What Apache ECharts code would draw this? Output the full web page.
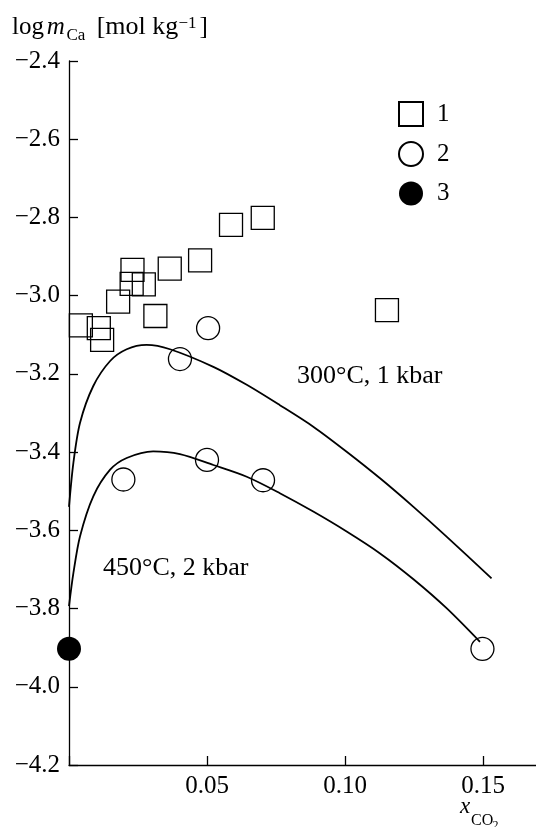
<!DOCTYPE html>
<html>
<head>
<meta charset="utf-8">
<script src="https://cdn.jsdelivr.net/npm/echarts@6/dist/echarts.min.js"></script>
<style>html,body{margin:0;padding:0;background:#fff;}#c{width:536px;height:827px;}</style>
</head>
<body>
<div id="c"></div>
<script>
// Series 1: squares
const squares = [
  [0.0043, -3.076], [0.0108, -3.083], [0.0120, -3.113], [0.0178, -3.015],
  [0.0230, -2.934], [0.0227, -2.970], [0.0271, -2.971], [0.0313, -3.052],
  [0.0365, -2.931], [0.0475, -2.910], [0.0587, -2.819], [0.0702, -2.801],
  [0.1152, -3.037]
];
// Series 2: open circles
const circles = [
  [0.0504, -3.083], [0.0402, -3.162], [0.0197, -3.470], [0.0500, -3.420],
  [0.0703, -3.472], [0.1498, -3.903]
];
// Series 3: filled circle
const filled = [[0.0, -3.903]];
// Curve 300°C, 1 kbar
const curve300 = [
  [0.0, -3.54], [0.0016, -3.427], [0.004, -3.325], [0.0088, -3.231], [0.0149, -3.167],
  [0.0209, -3.137], [0.0281, -3.126], [0.0366, -3.137], [0.0523, -3.182], [0.0644, -3.228],
  [0.0764, -3.280], [0.0885, -3.335], [0.1006, -3.399], [0.1127, -3.467], [0.1248, -3.540],
  [0.1368, -3.616], [0.1531, -3.723]
];
// Curve 450°C, 2 kbar
const curve450 = [
  [0.0, -3.794], [0.0016, -3.709], [0.004, -3.615], [0.0088, -3.513], [0.0149, -3.445],
  [0.0209, -3.415], [0.0305, -3.398], [0.0402, -3.405], [0.0523, -3.433], [0.0644, -3.463],
  [0.0764, -3.505], [0.0885, -3.552], [0.1006, -3.603], [0.1127, -3.659], [0.1248, -3.725],
  [0.1368, -3.799], [0.1489, -3.885]
];
const legendNames = ['1', '2', '3'];
const curveLabels = ['300°C, 1 kbar', '450°C, 2 kbar'];
const xTickLabels = {'0.05': '0.05', '0.1': '0.10', '0.15': '0.15'};

const FONT = '"Liberation Serif", "DejaVu Serif", serif';
const chart = echarts.init(document.getElementById('c'));
const markerStyle = { color: 'transparent', borderColor: '#000', borderWidth: 1.3, opacity: 1 };

function txt(s, x, y, size, italic) {
  return { type: 'text', x: x, y: y, z: 10, silent: true,
    style: { text: s, fontFamily: FONT, fontSize: size, fontStyle: italic ? 'italic' : 'normal',
             fill: '#000', verticalAlign: 'middle', align: 'left' } };
}
// y passed = baseline - 0.3375*fontSize
function tb(s, x, baseline, size, italic) { return txt(s, x, baseline - 0.3375 * size, size, italic); }

chart.setOption({
  animation: false,
  backgroundColor: '#fff',
  textStyle: { fontFamily: FONT, color: '#000' },
  grid: { left: 69, top: 61, width: 469.2, height: 704, containLabel: false, outerBoundsMode: 'none' },
  legend: {
    data: legendNames,
    orient: 'vertical',
    left: 398, top: 101, padding: 0,
    itemWidth: 24, itemHeight: 24, itemGap: 14,
    textStyle: { fontFamily: FONT, fontSize: 25, color: '#000', padding: [0, 0, 0, 9] },
    selectedMode: false
  },
  xAxis: {
    type: 'value', min: 0, max: 0.17, interval: 0.05,
    axisLine: { show: true, lineStyle: { color: '#000', width: 1.3 } },
    axisTick: { show: true, inside: true, length: 9, lineStyle: { color: '#000', width: 1.3 } },
    axisLabel: {
      margin: 9, fontFamily: FONT, fontSize: 25, color: '#000',
      formatter: v => { const k = String(+v.toFixed(2)); return xTickLabels[k] || ''; }
    },
    splitLine: { show: false }
  },
  yAxis: {
    type: 'value', min: -4.2, max: -2.4, interval: 0.2,
    axisLine: { show: true, lineStyle: { color: '#000', width: 1.3 } },
    axisTick: { show: true, inside: true, length: 9, lineStyle: { color: '#000', width: 1.3 } },
    axisLabel: {
      margin: 9, fontFamily: FONT, fontSize: 25, color: '#000',
      formatter: v => '\u2212' + Math.abs(v).toFixed(1)
    },
    splitLine: { show: false }
  },
  series: [
    { name: 'c300', type: 'line', data: curve300, smooth: 0.3, symbol: 'none',
      lineStyle: { color: '#000', width: 1.8 }, silent: true, z: 1 },
    { name: 'c450', type: 'line', data: curve450, smooth: 0.3, symbol: 'none',
      lineStyle: { color: '#000', width: 1.8 }, silent: true, z: 1 },
    { name: '1', type: 'scatter', data: squares, symbol: 'rect', symbolSize: 23, itemStyle: markerStyle, z: 3 },
    { name: '2', type: 'scatter', data: circles, symbol: 'circle', symbolSize: 23, itemStyle: markerStyle, z: 3 },
    { name: '3', type: 'scatter', data: filled, symbol: 'circle', symbolSize: 24, itemStyle: { color: '#000', opacity: 1 }, z: 3 }
  ],
  graphic: [
    // y-axis title: log m_Ca [mol kg^-1]
    tb('log', 12, 35.7, 25, false),
    tb('m', 46.7, 35.7, 25, true),
    tb('Ca', 66.5, 41, 17, false),
    tb('[mol kg', 96.7, 35.7, 26, false),
    tb('\u22121', 178.5, 29, 17, false),
    tb(']', 199.5, 35.7, 25, false),
    // x-axis title: x_CO2
    tb('x', 460, 815, 23, true),
    tb('CO', 471, 826, 16, false),
    tb('2', 492.5, 830, 12, false),
    // curve annotations
    tb(curveLabels[0], 297, 385, 26, false),
    tb(curveLabels[1], 103, 576.7, 26, false)
  ]
});
</script>
</body>
</html>
